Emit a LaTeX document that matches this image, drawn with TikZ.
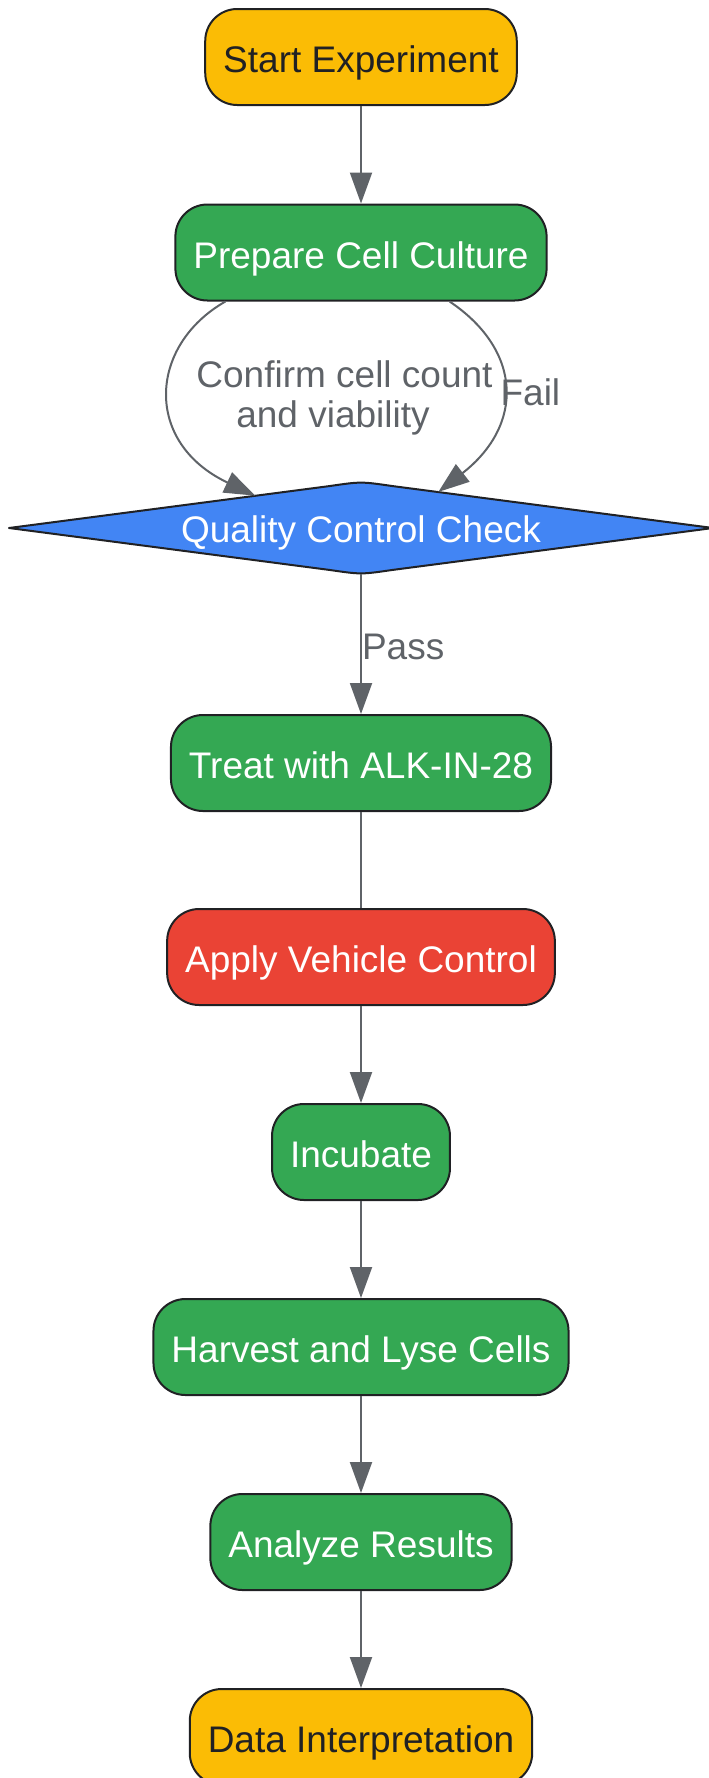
\documentclass[tikz,border=0pt]{standalone}
\usepackage{fontspec}
\setmainfont{Liberation Sans}
\usepackage{tikz}
\definecolor{amber}{HTML}{FBBC05}
\definecolor{leaf}{HTML}{34A853}
\definecolor{tomato}{HTML}{EA4335}
\definecolor{sky}{HTML}{4285F4}
\definecolor{ink}{HTML}{202124}
\definecolor{slate}{HTML}{5F6368}
\usetikzlibrary{shapes.geometric,arrows.meta}
\tikzset{box/.style={
    draw=ink,
    line width=2pt,
    rounded corners=32pt,
    minimum height=96pt,
    inner xsep=18pt,
    text=white,
    text height=31pt,
    text depth=0pt,
    font=\fontsize{37pt}{44pt}\selectfont},
  wire/.style={
    draw=slate,
    line width=2pt},
  link/.style={
    wire,
    -{Triangle[length=31pt,width=22pt]}},
  lbl/.style={
    text=slate,
    inner sep=0pt,
    yshift=-2.5pt,
    font=\fontsize{37pt}{40pt}\selectfont}}

\begin{document}
\begin{tikzpicture}[x=1pt, y=-1pt]
  \useasboundingbox (0,0) rectangle (709,1778);
\coordinate (AT1) at (361,57);
\coordinate (AT2) at (361,252.5);
\coordinate (AT3) at (361,528);
\coordinate (AT4) at (361,763);
\coordinate (AT5) at (361,957);
\coordinate (AT6) at (361,1152);
\coordinate (AT7) at (361,1347);
\coordinate (AT8) at (361,1542);
\coordinate (AT9) at (361,1737);

\node[box,
  fill=amber,
  text=ink] (start) at (AT1) {Start Experiment};

\node[box,
  fill=leaf] (prep) at (AT2) {Prepare Cell Culture};

% decision shape, flattened top and bottom
\begin{scope}[shift={(AT3)}]
\filldraw[fill=sky, draw=ink, line width=2pt, line join=round]
  (-352,0) -- (-31,-42) .. controls (0,-46.5) .. (31,-42) -- (352,0)
  -- (31,42) .. controls (0,46.5) .. (-31,42) -- cycle;
\end{scope}

\node[diamond,
  aspect=7.65,
  inner sep=0pt,
  minimum width=704pt,
  minimum height=92pt,
  text=white,
  text height=29.4pt,
  text depth=0pt,
  font=\fontsize{37pt}{44pt}\selectfont] (qc) at (AT3) {Quality Control Check};

\node[box,
  fill=leaf] (treat) at (AT4) {Treat with ALK-IN-28};

\node[box,
  fill=tomato] (vehicle) at (AT5) {Apply Vehicle Control};

\node[box,
  fill=leaf] (incub) at (AT6) {Incubate};

\node[box,
  fill=leaf] (harvest) at (AT7) {Harvest and Lyse Cells};

\node[box,
  fill=leaf] (analyze) at (AT8) {Analyze Results};

\node[box,
  fill=amber,
  text=ink] (interp) at (AT9) {Data Interpretation};

\draw[link] (start) -- (prep);
\draw[link] ([xshift=51pt]prep.south west) .. controls +(-77,44) and +(-112,-53) .. (qc.163)
  node[lbl, pos=0.5, anchor=west, xshift=26pt, align=center] {Confirm cell count\\and viability\hspace*{23pt}};
\draw[link] ([xshift=-98pt]prep.south east) .. controls +(73,49) and +(86,-67) .. (qc.25)
  node[lbl, pos=0.5, anchor=west, xshift=-4pt] {Fail};
\draw[link] (qc) -- node[lbl, anchor=west] {Pass} (treat);
\draw[wire] (treat) -- (vehicle);
\draw[link] (vehicle) -- (incub);
\draw[link] (incub) -- (harvest);
\draw[link] (harvest) -- (analyze);
\draw[link] (analyze) -- (interp);


\end{tikzpicture}
\end{document}
